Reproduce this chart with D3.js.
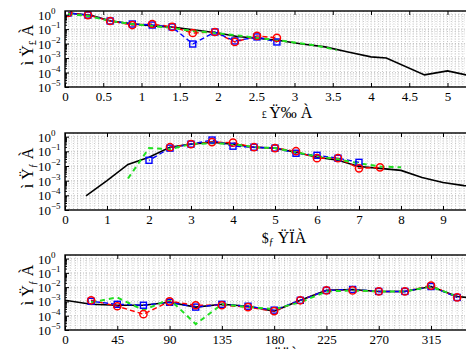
<!DOCTYPE html>
<html><head><meta charset="utf-8">
<script src="https://cdn.jsdelivr.net/npm/d3@7/dist/d3.min.js"></script>
<style>
body{margin:0;background:#fff}
svg{display:block}
text{font-family:"Liberation Serif","Times New Roman",serif;fill:#000}
</style>
</head><body>
<svg id="c" width="466" height="349"></svg>
<script>
// ---------- Panel 1 ----------
const p1BlackX = [0.05,0.35,0.6,0.9,1.15,1.45,1.7,2.0,2.25,2.55,2.8,3.1,3.4,3.7,4.0,4.2,4.7,5.0,5.3,5.6];
const p1BlackY = [1.29,0.87,0.363,0.224,0.166,0.129,0.087,0.0537,0.0309,0.0224,0.0162,0.00933,0.00589,0.00263,0.0012,0.00102,6.9e-5,1.29e-4,5.9e-5,4.3e-5];
const p1MarkX = [0.04,0.30,0.59,0.88,1.14,1.40,1.67,1.96,2.22,2.51,2.77];
const p1RedY  = [1.29,0.93,0.363,0.191,0.224,0.141,0.0537,0.0631,0.0129,0.0339,0.0245];
const p1BlueY = [1.29,0.93,0.363,0.224,0.191,0.141,0.00933,0.0631,0.0151,0.0288,0.0129];
const p1GreenX = [0.04,0.30,0.59,0.88,1.14,1.40,1.67,1.96,2.22,2.51,2.77,3.05,3.3,3.55];
const p1GreenY = [1.1,0.81,0.363,0.224,0.166,0.12,0.0741,0.0537,0.0389,0.0245,0.0178,0.011,0.00692,0.00363];
const p1XTicks = [0,0.5,1,1.5,2,2.5,3,3.5,4,4.5,5];

// ---------- Panel 2 ----------
const p2BlackX = [0.5,1,1.5,2,2.5,3,3.5,4,4.5,5,5.5,6,6.5,7,7.5,8,8.5,9,9.5,10];
const p2BlackY = [9.3e-5,1.02e-3,0.0129,0.0398,0.191,0.309,0.427,0.309,0.191,0.166,0.087,0.0398,0.0245,0.00933,0.00692,0.00501,0.00166,7.4e-4,4.6e-4,3.4e-4];
const p2RedX = [2.5,3,3.5,4,4.5,5,5.5,6,6.5,7,7.5];
const p2RedY = [0.191,0.309,0.427,0.389,0.191,0.166,0.102,0.0339,0.0339,0.00692,0.00813];
const p2BlueX = [2,2.5,3,3.5,4,4.5,5,5.5,6,6.5,7];
const p2BlueY = [0.0245,0.166,0.309,0.589,0.224,0.191,0.166,0.0741,0.0537,0.0339,0.0178];
const p2GreenX = [1.5,2,2.5,3,3.5,4,4.5,5,5.5,6,6.5,7,7.5,8];
const p2GreenY = [1.41e-3,0.166,0.141,0.309,0.363,0.309,0.191,0.166,0.087,0.0457,0.0288,0.0151,0.00933,0.00813];
const p2XTicks = [0,1,2,3,4,5,6,7,8,9];

// ---------- Panel 3 ----------
const p3BlackX = [0,22.5,45,67.5,90,112.5,135,157.5,180,202.5,225,247.5,270,292.5,315,337.5,360];
const p3BlackY = [1.2e-3,6.3e-4,5.4e-4,5.4e-4,8.7e-4,4.0e-4,6.3e-4,4.6e-4,2.1e-4,1.2e-3,5.9e-3,6.9e-3,5.0e-3,5.0e-3,1.1e-2,2.24e-3,1.41e-3];
const p3MarkX = [22.5,45,67.5,90,112.5,135,157.5,180,202.5,225,247.5,270,292.5,315,337.5];
const p3RedY   = [1.2e-3,4.6e-4,1.29e-4,1.02e-3,5.4e-4,5.4e-4,4.0e-4,2.1e-4,1.2e-3,5.9e-3,5.9e-3,5.0e-3,5.0e-3,1.29e-2,1.9e-3];
const p3BlueY  = [1.02e-3,6.3e-4,5.4e-4,8.7e-4,4.0e-4,6.3e-4,4.6e-4,2.45e-4,1.2e-3,5.9e-3,6.9e-3,5.0e-3,5.0e-3,1.1e-2,1.9e-3];
const p3GreenY = [8.7e-4,1.9e-3,2.45e-4,1.41e-3,2.6e-5,6.3e-4,4.0e-4,2.9e-4,8.7e-4,5.0e-3,5.9e-3,5.0e-3,5.0e-3,1.1e-2,2.24e-3];
const p3XTicks = [0,45,90,135,180,225,270,315];

const yTickVals = [1,1e-1,1e-2,1e-3,1e-4,1e-5];
const yTickExp = ["0","\u22121","\u22122","\u22123","\u22124","\u22125"];

const zip = (xs, ys) => xs.map((v,i)=>[v, ys[i]]);

const panels = [
  {top:11, bottom:87, xDomain:[0,5.6], xMinor:0.05, xTicks:p1XTicks,
   black:zip(p1BlackX,p1BlackY), red:zip(p1MarkX,p1RedY), blue:zip(p1MarkX,p1BlueY), green:zip(p1GreenX,p1GreenY),
   ylab:["ì Ÿ","£"," À"], ylabY:45, xlab:["£ ","Ÿ‰ À"], xlabX:287, xlabY:118},
  {top:133, bottom:210, xDomain:[0,10], xMinor:0.1, xTicks:p2XTicks,
   black:zip(p2BlackX,p2BlackY), red:zip(p2RedX,p2RedY), blue:zip(p2BlueX,p2BlueY), green:zip(p2GreenX,p2GreenY),
   ylab:["ì Ÿ","ƒ"," À"], ylabY:168, xlab:["$","ƒ"," ŸÏÀ"], xlabX:284, xlabY:243},
  {top:255, bottom:330, xDomain:[0,360], xMinor:4.5, xTicks:p3XTicks,
   black:zip(p3BlackX,p3BlackY), red:zip(p3MarkX,p3RedY), blue:zip(p3MarkX,p3BlueY), green:zip(p3MarkX,p3GreenY),
   ylab:["ì Ÿ","ƒ"," À"], ylabY:285, xlab:["","","ŸÏÀ"], xlabX:286, xlabY:363}
];
const pxPerUnit = [76.5, 42, 1.162];

const svg = d3.select('#c');
const LEFT = 65;

panels.forEach((p, i) => {
  const right = LEFT + (p.xDomain[1]-p.xDomain[0]) * pxPerUnit[i];
  const x = d3.scaleLinear().domain(p.xDomain).range([LEFT, right]);
  const y = d3.scaleLog().domain([1e-5, Math.pow(10,0.25)]).range([p.bottom, p.top]);
  const clipId = 'clip' + i;
  svg.append('clipPath').attr('id', clipId).append('rect')
    .attr('x', LEFT).attr('y', p.top).attr('width', right-LEFT).attr('height', p.bottom-p.top);

  const grid = svg.append('g').attr('clip-path', `url(#${clipId})`);
  const yMinor = [];
  for (let k=-5;k<=0;k++) for (let m=2;m<=9;m++) { const v=m*Math.pow(10,k); if (v<=Math.pow(10,0.25)) yMinor.push(v); }
  grid.selectAll('.hm').data(yMinor).join('line')
    .attr('x1', LEFT).attr('x2', right).attr('y1', d=>y(d)).attr('y2', d=>y(d))
    .attr('stroke', '#d8d8d8').attr('stroke-width', 0.5).attr('stroke-dasharray', '1,2');
  grid.selectAll('.hM').data(yTickVals).join('line')
    .attr('x1', LEFT).attr('x2', right).attr('y1', d=>y(d)).attr('y2', d=>y(d))
    .attr('stroke', '#aaa').attr('stroke-width', 0.6).attr('stroke-dasharray', '1,2');
  const xMinor = d3.range(p.xDomain[0], p.xDomain[1]+1e-9, p.xMinor);
  grid.selectAll('.vm').data(xMinor).join('line')
    .attr('x1', d=>x(d)).attr('x2', d=>x(d)).attr('y1', p.top).attr('y2', p.bottom)
    .attr('stroke', '#9a9a9a').attr('stroke-width', 0.6).attr('stroke-dasharray', '1,1.5');

  const line = d3.line().x(d=>x(d[0])).y(d=>y(d[1]));
  const plot = svg.append('g').attr('clip-path', `url(#${clipId})`);
  plot.append('path').datum(p.black).attr('d', line)
    .attr('fill','none').attr('stroke','#000').attr('stroke-width',1.6);
  plot.append('path').datum(p.red).attr('d', line)
    .attr('fill','none').attr('stroke','#ff0000').attr('stroke-width',1.4).attr('stroke-dasharray','5,3');
  plot.append('path').datum(p.blue).attr('d', line)
    .attr('fill','none').attr('stroke','#0000ff').attr('stroke-width',1.4).attr('stroke-dasharray','5,3').attr('stroke-dashoffset',4);
  plot.append('path').datum(p.green).attr('d', line)
    .attr('fill','none').attr('stroke','#22e022').attr('stroke-width',2).attr('stroke-dasharray','5,4');
  plot.selectAll('.sq').data(p.blue).join('rect')
    .attr('x', d=>x(d[0])-3).attr('y', d=>y(d[1])-3).attr('width',6).attr('height',6)
    .attr('fill','none').attr('stroke','#0000ff').attr('stroke-width',1.4);
  plot.selectAll('.ci').data(p.red).join('circle')
    .attr('cx', d=>x(d[0])).attr('cy', d=>y(d[1])).attr('r',3.6)
    .attr('fill','none').attr('stroke','#ff0000').attr('stroke-width',1.5);

  const fmt = d => (Math.round(d*10)/10).toString();
  const xAxis = d3.axisBottom(x).tickValues(p.xTicks).tickSize(-4).tickSizeOuter(0).tickPadding(5).tickFormat(fmt);
  const gx = svg.append('g').attr('transform', `translate(0,${p.bottom})`).call(xAxis);
  gx.select('.domain').remove();
  gx.selectAll('text').attr('font-size', 13).attr('font-family','"Liberation Serif",serif').attr('fill','#000');
  gx.selectAll('line').attr('stroke','#000');
  const gxt = svg.append('g').attr('transform', `translate(0,${p.top})`)
    .call(d3.axisTop(x).tickValues(p.xTicks).tickSize(-4).tickSizeOuter(0).tickFormat(''));
  gxt.select('.domain').remove();

  const gy = svg.append('g').attr('transform', `translate(${LEFT},0)`)
    .call(d3.axisLeft(y).tickValues(yTickVals).tickSize(-4).tickSizeOuter(0).tickFormat(''));
  gy.select('.domain').remove();
  const gym = svg.append('g').attr('transform', `translate(${LEFT},0)`)
    .call(d3.axisLeft(y).tickValues(yMinor).tickSize(-2).tickSizeOuter(0).tickFormat(''));
  gym.select('.domain').remove();

  const yl = svg.append('g');
  yTickVals.forEach((v, k) => {
    const t = yl.append('text').attr('x', 38).attr('y', y(v)+5).attr('font-size', 13);
    t.append('tspan').text('10');
    t.append('tspan').attr('font-size', 9).attr('dy', -6).text(yTickExp[k]);
  });

  svg.append('rect').attr('x', LEFT).attr('y', p.top).attr('width', right-LEFT).attr('height', p.bottom-p.top)
    .attr('fill','none').attr('stroke','#000').attr('stroke-width',1.4);

  const ylt = svg.append('text').attr('transform', `translate(33,${p.ylabY}) rotate(-90)`)
    .attr('text-anchor','middle').attr('font-size', 16);
  ylt.append('tspan').text(p.ylab[0]);
  ylt.append('tspan').attr('font-size', 10).attr('dy', 3).text(p.ylab[1]);
  ylt.append('tspan').attr('dy', -3).text(p.ylab[2]);

  const xlt = svg.append('text').attr('x', p.xlabX).attr('y', p.xlabY).attr('text-anchor','middle').attr('font-size', 16);
  if (i === 0) {
    xlt.append('tspan').attr('font-size', 10).text(p.xlab[0]);
    xlt.append('tspan').text(p.xlab[1]);
  } else {
    xlt.append('tspan').attr('font-size', 14).text(p.xlab[0]);
    xlt.append('tspan').attr('font-size', 10).attr('dy', 2).text(p.xlab[1]);
    xlt.append('tspan').attr('dy', -2).text(p.xlab[2]);
  }
});
</script>
</body></html>
